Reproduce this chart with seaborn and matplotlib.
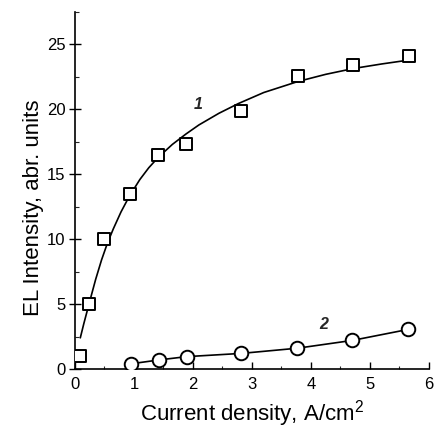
import matplotlib
matplotlib.use("Agg")
import matplotlib.pyplot as plt
import seaborn as sns
import pandas as pd
from matplotlib.ticker import MultipleLocator

# Series 1 (squares): measured points
x1 = [0.08, 0.235, 0.49, 0.94, 1.41, 1.88, 2.82, 3.78, 4.72, 5.66]
y1 = [1.0, 5.0, 10.0, 13.5, 16.5, 17.3, 19.9, 22.6, 23.4, 24.1]
# Series 1 fitted curve
xf1 = [0.09, 0.15, 0.24, 0.35, 0.45, 0.55, 0.65, 0.78, 0.92, 1.1, 1.25, 1.41, 1.65,
       1.88, 2.1, 2.44, 2.77, 3.2, 3.78, 4.25, 4.72, 5.2, 5.66]
yf1 = [2.4, 3.5, 5.05, 6.9, 8.4, 9.7, 10.8, 12.1, 13.3, 14.6, 15.5, 16.3, 17.3,
       18.1, 18.8, 19.7, 20.45, 21.3, 22.15, 22.7, 23.15, 23.5, 23.8]
# Series 2 (circles)
x2 = [0.95, 1.43, 1.89, 2.82, 3.77, 4.70, 5.65]
y2 = [0.4, 0.7, 0.95, 1.2, 1.6, 2.2, 3.05]

xticks = [0, 1, 2, 3, 4, 5, 6]
yticks = [0, 5, 10, 15, 20, 25]

sns.set_style("ticks")
plt.rcParams['font.family'] = ['Liberation Sans', 'DejaVu Sans']
plt.rcParams['mathtext.fontset'] = 'custom'
plt.rcParams['mathtext.rm'] = 'Liberation Sans'

fig = plt.figure(figsize=(4.35, 4.28), dpi=100)
ax = fig.add_axes([0.1724, 0.1379, 0.8138, 0.834])

d_fit = pd.DataFrame({"x": xf1, "y": yf1})
d1 = pd.DataFrame({"x": x1, "y": y1})
d2 = pd.DataFrame({"x": x2, "y": y2})

sns.lineplot(data=d_fit, x="x", y="y", ax=ax, color="black", lw=1.2, sort=True)
sns.lineplot(data=d2, x="x", y="y", ax=ax, color="black", lw=1.2, sort=True)
sns.scatterplot(data=d1, x="x", y="y", ax=ax, marker="s", s=70, facecolor="white",
                edgecolor="black", linewidth=1.4, zorder=5)
sns.scatterplot(data=d2, x="x", y="y", ax=ax, marker="o", s=95, facecolor="white",
                edgecolor="black", linewidth=1.4, zorder=5)

ax.set_xlim(0, 6)
ax.set_ylim(0, 27.5)
ax.set_xticks(xticks)
ax.set_yticks(yticks)
ax.xaxis.set_minor_locator(MultipleLocator(0.5))
ax.yaxis.set_minor_locator(MultipleLocator(2.5))
ax.tick_params(axis="x", which="major", direction="in", length=5, width=1, labelsize=12, pad=6, colors="black")
ax.tick_params(axis="x", which="minor", direction="in", length=2.5, width=0.8)
ax.tick_params(axis="y", which="major", direction="inout", length=8, width=1, labelsize=12, pad=3, colors="black")
ax.tick_params(axis="y", which="minor", direction="in", length=3, width=0.8)
for s in ["top", "right"]:
    ax.spines[s].set_visible(False)
for s in ["left", "bottom"]:
    ax.spines[s].set_color("black")
    ax.spines[s].set_linewidth(1.2)

ax.set_xlabel("Current density, A/cm$^\\mathregular{2}$", fontsize=16, labelpad=4, color="black")
ax.set_ylabel("EL Intensity, abr. units", fontsize=16, color="black")
ax.yaxis.set_label_coords(-0.088, 0.451)

ax.text(2.08, 20.4, "1", fontsize=11.5, style="italic", fontweight="bold", ha="center", va="center")
ax.text(4.22, 3.4, "2", fontsize=11.5, style="italic", fontweight="bold", ha="center", va="center")

fig.savefig("out.png", dpi=100)
